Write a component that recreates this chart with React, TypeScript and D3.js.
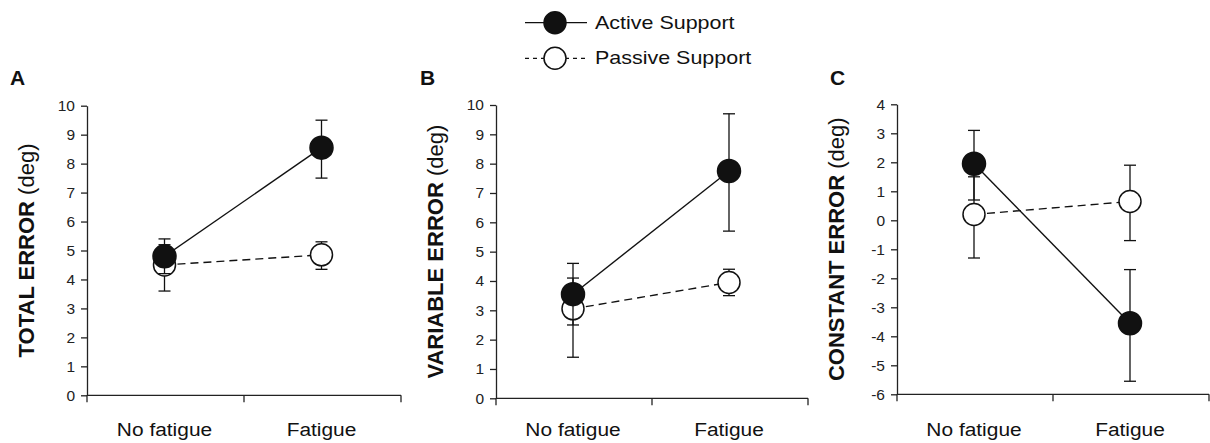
import React, { useEffect, useRef } from "react";
import * as d3 from "d3";

// conditions on the x axis
const categories = ["No fatigue", "Fatigue"];
const seriesNames = ["Active Support", "Passive Support"];

// A: total error (deg)
const totalActive = [4.8, 8.55];
const totalActiveHi = [5.4, 9.5];
const totalActiveLo = [4.2, 7.5];
const totalPassive = [4.5, 4.85];
const totalPassiveHi = [5.2, 5.3];
const totalPassiveLo = [3.6, 4.35];

// B: variable error (deg)
const variableActive = [3.55, 7.75];
const variableActiveHi = [4.6, 9.7];
const variableActiveLo = [2.5, 5.7];
const variablePassive = [3.05, 3.95];
const variablePassiveHi = [4.1, 4.4];
const variablePassiveLo = [1.4, 3.5];

// C: constant error (deg)
const constantActive = [1.95, -3.55];
const constantActiveHi = [3.1, -1.7];
const constantActiveLo = [0.7, -5.55];
const constantPassive = [0.2, 0.65];
const constantPassiveHi = [1.5, 1.9];
const constantPassiveLo = [-1.3, -0.7];

const errorTicks = [0, 1, 2, 3, 4, 5, 6, 7, 8, 9, 10];
const constantTicks = [-6, -5, -4, -3, -2, -1, 0, 1, 2, 3, 4];

const FONT = "'Liberation Sans', Arial, Helvetica, sans-serif";

const panels = [
  {
    letter: "A", title: "TOTAL ERROR", domain: [0, 10], ticks: errorTicks,
    active: [totalActive, totalActiveLo, totalActiveHi],
    passive: [totalPassive, totalPassiveLo, totalPassiveHi],
    axisX: 87, right: 401, top: 105.7, bottom: 395.3, letterX: 10,
  },
  {
    letter: "B", title: "VARIABLE ERROR", domain: [0, 10], ticks: errorTicks,
    active: [variableActive, variableActiveLo, variableActiveHi],
    passive: [variablePassive, variablePassiveLo, variablePassiveHi],
    axisX: 496, right: 808, top: 105, bottom: 398.3, letterX: 420,
  },
  {
    letter: "C", title: "CONSTANT ERROR", domain: [-6, 4], ticks: constantTicks,
    active: [constantActive, constantActiveLo, constantActiveHi],
    passive: [constantPassive, constantPassiveLo, constantPassiveHi],
    axisX: 897, right: 1209, top: 104.3, bottom: 394.3, letterX: 830,
  },
];

export default function App() {
  const ref = useRef<SVGSVGElement>(null);

  useEffect(() => {
    const svg = d3.select(ref.current);
    svg.selectAll("*").remove();

    panels.forEach(p => {
      const y = d3.scaleLinear().domain(p.domain).range([p.bottom, p.top]);
      const x = d3.scaleBand().domain(categories).range([p.axisX, p.right]);
      const cx = (c: string) => (x(c) as number) + x.bandwidth() / 2 - 1;
      const g = svg.append("g");

      // y axis
      g.append("g")
        .attr("transform", `translate(${p.axisX},0)`)
        .call(d3.axisLeft(y).tickValues(p.ticks).tickSize(6).tickSizeOuter(0).tickPadding(6).tickFormat(d => String(d)))
        .call(a => a.selectAll("text").attr("font-size", 15.5).attr("font-family", FONT).attr("fill", "#222"))
        .call(a => a.selectAll("line,path").attr("stroke", "#222").attr("stroke-width", 1.3));

      // x axis with ticks on the band edges
      const edges = [p.axisX, ...categories.map(c => (x(c) as number) + x.bandwidth())];
      g.append("line").attr("x1", p.axisX).attr("x2", p.right).attr("y1", p.bottom).attr("y2", p.bottom)
        .attr("stroke", "#222").attr("stroke-width", 1.3);
      g.selectAll(".xtick").data(edges).join("line").attr("class", "xtick")
        .attr("x1", d => d).attr("x2", d => d).attr("y1", p.bottom).attr("y2", p.bottom + 7)
        .attr("stroke", "#222").attr("stroke-width", 1.3);
      g.selectAll(".xlab").data(categories).join("text").attr("class", "xlab")
        .attr("transform", d => `translate(${cx(d)},436) scale(1.1,1)`)
        .attr("text-anchor", "middle").attr("font-size", 19).attr("font-family", FONT).attr("fill", "#111")
        .text(d => d);

      // y label
      const yl = g.append("text")
        .attr("transform", `translate(${p.axisX - 53},${(p.top + p.bottom) / 2}) rotate(-90)`)
        .attr("text-anchor", "middle").attr("font-size", 22).attr("font-family", FONT).attr("fill", "#111");
      yl.append("tspan").attr("font-weight", "bold").text(p.title);
      yl.append("tspan").text(" (deg)");

      // panel letter
      g.append("text").attr("x", p.letterX).attr("y", 85).attr("font-size", 21).attr("font-weight", "bold")
        .attr("font-family", FONT).attr("fill", "#111").text(p.letter);

      // passive first, active drawn on top
      const series = [
        { vals: p.passive, filled: false },
        { vals: p.active, filled: true },
      ];
      series.forEach(s => {
        const [mean, lo, hi] = s.vals;
        const pts = categories.map((c, i) => ({ c, m: mean[i], lo: lo[i], hi: hi[i] }));
        const sg = g.append("g");
        // error bars
        sg.selectAll(".eb").data(pts).join("line").attr("class", "eb")
          .attr("x1", d => cx(d.c)).attr("x2", d => cx(d.c)).attr("y1", d => y(d.lo)).attr("y2", d => y(d.hi))
          .attr("stroke", "#111").attr("stroke-width", 1.3);
        sg.selectAll(".cap").data(pts.flatMap(d => [{ c: d.c, v: d.lo }, { c: d.c, v: d.hi }])).join("line").attr("class", "cap")
          .attr("x1", d => cx(d.c) - 6).attr("x2", d => cx(d.c) + 6).attr("y1", d => y(d.v)).attr("y2", d => y(d.v))
          .attr("stroke", "#111").attr("stroke-width", 1.3);
        // connecting line
        const line = d3.line<any>().x(d => cx(d.c)).y(d => y(d.m));
        sg.append("path").attr("d", line(pts)).attr("fill", "none").attr("stroke", "#111").attr("stroke-width", 1.4)
          .attr("stroke-dasharray", s.filled ? null : "8,5");
        // markers
        sg.selectAll(".mk").data(pts).join("circle").attr("class", "mk")
          .attr("cx", d => cx(d.c)).attr("cy", d => y(d.m)).attr("r", s.filled ? 11.5 : 11)
          .attr("fill", s.filled ? "#111" : "#fff").attr("stroke", "#111").attr("stroke-width", 1.5);
      });
    });

    // legend
    const lg = svg.append("g");
    seriesNames.forEach((name, i) => {
      const ly = i === 0 ? 22.7 : 58.3;
      lg.append("line").attr("x1", 525).attr("x2", 587).attr("y1", ly).attr("y2", ly)
        .attr("stroke", "#111").attr("stroke-width", 1.3).attr("stroke-dasharray", i === 0 ? null : "4,4");
      lg.append("circle").attr("cx", 555).attr("cy", ly).attr("r", 11)
        .attr("fill", i === 0 ? "#111" : "#fff").attr("stroke", "#111").attr("stroke-width", 1.5);
      lg.append("text").attr("transform", `translate(595,${ly + 5.8}) scale(1.13,1)`)
        .attr("font-size", 19).attr("font-family", FONT).attr("fill", "#111").text(name);
    });
  }, []);

  return (
    <svg ref={ref} width={1210} height={443} style={{ position: "absolute", left: 0, top: 0, background: "#fff" }} />
  );
}
